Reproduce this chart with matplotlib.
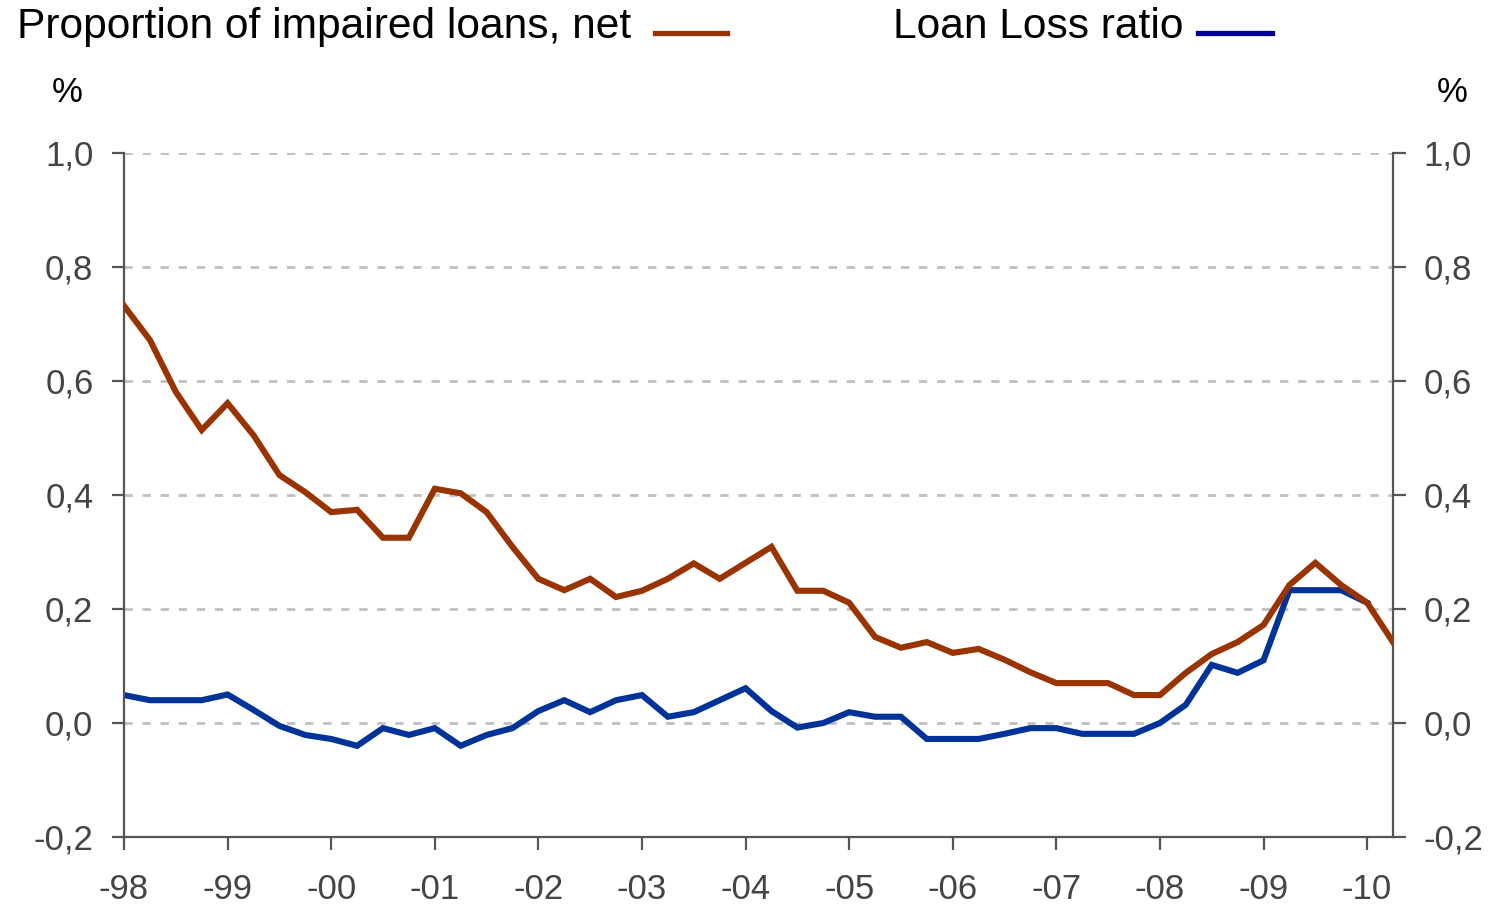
import matplotlib
matplotlib.use("Agg")
import matplotlib.pyplot as plt
from matplotlib.lines import Line2D
from matplotlib.ticker import FuncFormatter

# Quarterly observations, 1998 Q1 onwards (percent)
impaired_net = [
    0.732, 0.672, 0.581, 0.514, 0.561, 0.505, 0.435, 0.405,
    0.370, 0.374, 0.325, 0.325, 0.411, 0.403, 0.370, 0.309,
    0.253, 0.233, 0.253, 0.221, 0.232, 0.253, 0.280, 0.253,
    0.281, 0.309, 0.232, 0.232, 0.211, 0.151, 0.132, 0.142,
    0.123, 0.130, 0.111, 0.089, 0.070, 0.070, 0.070, 0.049,
    0.049, 0.088, 0.121, 0.142, 0.172, 0.242, 0.281, 0.242,
    0.211, 0.142,
]
loan_loss = [
    0.049, 0.040, 0.040, 0.040, 0.050, 0.023, -0.005, -0.021,
    -0.028, -0.040, -0.009, -0.021, -0.009, -0.040, -0.021, -0.009,
    0.021, 0.040, 0.019, 0.040, 0.049, 0.011, 0.019, 0.040,
    0.061, 0.021, -0.008, 0.000, 0.019, 0.011, 0.011, -0.028,
    -0.028, -0.028, -0.019, -0.009, -0.009, -0.019, -0.019, -0.019,
    0.000, 0.032, 0.102, 0.088, 0.110, 0.233, 0.233, 0.233,
    0.211,
]
year_labels = ["-98", "-99", "-00", "-01", "-02", "-03", "-04",
               "-05", "-06", "-07", "-08", "-09", "-10"]
y_ticks = [-0.2, 0.0, 0.2, 0.4, 0.6, 0.8, 1.0]

RED = "#993300"
BLUE = "#003399"
AXIS = "#555555"
TEXT = "#444444"

plt.rcParams["font.family"] = ["Liberation Sans", "DejaVu Sans"]

fig = plt.figure(figsize=(14.88, 9.09), dpi=100)
ax = fig.add_axes([124 / 1488, 1 - 837 / 909, (1393 - 124) / 1488, (837 - 153) / 909])

ax.plot(range(len(impaired_net)), impaired_net, color=RED, lw=4.4,
        solid_joinstyle="miter", zorder=3)
ax.plot(range(len(loan_loss)), loan_loss, color=BLUE, lw=4.4,
        solid_joinstyle="miter", zorder=2)

ax.set_xlim(0, len(impaired_net) - 1)
ax.set_ylim(-0.2, 1.0)
ax.set_xticks(range(0, 4 * len(year_labels), 4))
ax.set_xticklabels(year_labels)
ax.set_yticks(y_ticks)
ax.yaxis.set_major_formatter(FuncFormatter(lambda v, _: f"{v:.1f}".replace(".", ",")))

for y in y_ticks[1:]:
    ax.axhline(y, color="#c0c0c0", lw=2, ls=(0, (3, 3.5)), zorder=1)

ax.spines["top"].set_visible(False)
for side in ("left", "right", "bottom"):
    ax.spines[side].set_color(AXIS)
    ax.spines[side].set_linewidth(1.6)

ax.tick_params(axis="y", which="both", direction="out", length=9, width=1.6,
               color=AXIS, labelcolor=TEXT, labelsize=25, pad=13,
               left=True, right=True, labelleft=True, labelright=True)
ax.tick_params(axis="x", direction="out", length=9, width=1.6, color=AXIS,
               labelcolor=TEXT, labelsize=25, pad=17)

# Unit markers above each axis
fig.text(67 / 1488, 1 - 92 / 909, "%", fontsize=25, color="black",
         ha="center", va="center")
fig.text(1452 / 1488, 1 - 92 / 909, "%", fontsize=25, color="black",
         ha="center", va="center")

# Series key across the top
fig.text(17 / 1488, 1 - 27 / 909, "Proportion of impaired loans, net",
         fontsize=30.6, color="black", ha="left", va="center")
fig.add_artist(Line2D([655 / 1488, 727 / 1488], [1 - 33 / 909, 1 - 33 / 909],
                      color=RED, lw=3.8, transform=fig.transFigure))
fig.text(893 / 1488, 1 - 27 / 909, "Loan Loss ratio",
         fontsize=30.6, color="black", ha="left", va="center")
fig.add_artist(Line2D([1198 / 1488, 1272 / 1488], [1 - 33 / 909, 1 - 33 / 909],
                      color="#000099", lw=3.8, transform=fig.transFigure))

fig.savefig("out.png", dpi=100)
